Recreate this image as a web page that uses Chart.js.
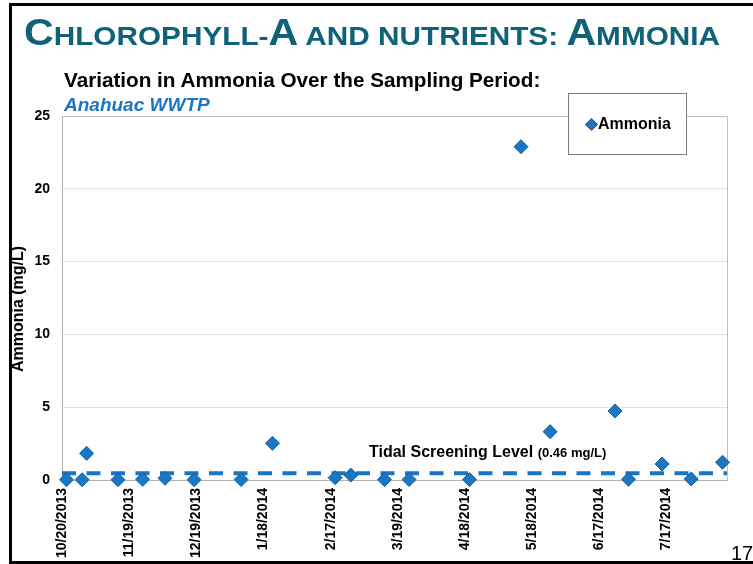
<!DOCTYPE html>
<html>
<head>
<meta charset="utf-8">
<script src="https://cdn.jsdelivr.net/npm/chart.js@4.4.0/dist/chart.umd.min.js"></script>
<style>
html,body{margin:0;padding:0;background:#fff;}
#wrap{position:relative;width:753px;height:564px;overflow:hidden;font-family:"Liberation Sans",Arial,Helvetica,sans-serif;background:#fff;}
#frame{position:absolute;left:9px;top:3px;width:800px;height:555px;border-left:3px solid #000;border-top:3px solid #000;border-bottom:3px solid #000;}
#chart{position:absolute;left:0;top:0;}
.t{position:absolute;white-space:nowrap;}
#title{left:24px;top:15px;color:#0F6378;font-weight:bold;line-height:35px;transform-origin:0 0;}
#title .b{font-size:36px;}
#title .s{font-size:26px;}
#sub1{left:64px;top:70px;font-size:20.7px;line-height:20px;font-weight:bold;color:#000;}
#sub2{left:64px;top:95px;font-size:19px;line-height:19px;font-weight:bold;font-style:italic;color:#1A75C7;}
#ytitle{left:18px;top:309px;font-size:16px;line-height:16px;font-weight:bold;color:#000;transform:translate(-50%,-50%) rotate(-90deg);}
#note{left:369px;top:444px;font-size:16px;line-height:16px;font-weight:bold;color:#000;}
#note span{font-size:13px;}
#legend{position:absolute;left:568px;top:93px;width:117px;height:60px;border:1px solid #7F7F7F;background:#fff;}
#legend .d{position:absolute;left:18px;top:26px;width:7px;height:7px;background:#1C77C3;border:1px solid #135E9F;transform:rotate(45deg);}
#legend .l{position:absolute;left:29px;top:22px;font-size:16px;line-height:16px;font-weight:bold;color:#000;}
#pg{left:731px;top:543px;font-size:20px;line-height:20px;color:#000;}
</style>
</head>
<body>
<div id="wrap">
  <canvas id="chart" width="753" height="564"></canvas>
  <div id="frame"></div>
  <div class="t" id="title"><span class="b">C</span><span class="s">HLOROPHYLL-</span><span class="b">A</span><span class="s"> AND NUTRIENTS: </span><span class="b">A</span><span class="s">MMONIA</span></div>
  <div class="t" id="sub1">Variation in Ammonia Over the Sampling Period:</div>
  <div class="t" id="sub2">Anahuac WWTP</div>
  <div class="t" id="ytitle">Ammonia (mg/L)</div>
  <div class="t" id="note">Tidal Screening Level <span>(0.46 mg/L)</span></div>
  <div id="legend"><div class="d"></div><div class="l">Ammonia</div></div>
  <div class="t" id="pg">17</div>
</div>
<script>
// ---- data ----
const sampleDates = ['2013-10-22','2013-10-29','2013-10-31','2013-11-14','2013-11-25','2013-12-05','2013-12-18',
  '2014-01-08','2014-01-22','2014-02-19','2014-02-26','2014-03-13','2014-03-24','2014-04-20','2014-05-13',
  '2014-05-26','2014-06-24','2014-06-30','2014-07-15','2014-07-28','2014-08-11'];
const ammonia = [0.02,0.02,1.83,0.02,0.05,0.12,0.02,0.03,2.52,0.16,0.34,0.03,0.03,0.03,22.89,3.32,4.74,0.05,1.10,0.07,1.22];
const tickLabels = ['10/20/2013','11/19/2013','12/19/2013','1/18/2014','2/17/2014','3/19/2014','4/18/2014','5/18/2014','6/17/2014','7/17/2014'];
const yTickValues = [0,5,10,15,20,25];
const screeningLevel = 0.46;
const axisStart = '2013-10-20';
const axisEnd = '2014-08-13';

// ---- helpers ----
function isoDay(s){const p=s.split('-').map(Number);return Date.UTC(p[0],p[1]-1,p[2])/86400000;}
function usDay(s){const p=s.split('/').map(Number);return Date.UTC(p[2],p[0]-1,p[1])/86400000;}
const d0 = isoDay(axisStart);
const xMax = isoDay(axisEnd) - d0;
const points = sampleDates.map((d,i)=>({x: isoDay(d)-d0, y: ammonia[i]}));
const tickPos = tickLabels.map(l=>usDay(l)-d0);
const labelByPos = {}; tickPos.forEach((p,i)=>labelByPos[p]=tickLabels[i]);

const frameLines = {
  id:'frameLines',
  beforeDatasetsDraw(chart){
    const a=chart.chartArea, c=chart.ctx;
    c.save(); c.strokeStyle='#BFBFBF'; c.lineWidth=1;
    c.beginPath(); c.moveTo(Math.round(a.right)+0.5,a.top); c.lineTo(Math.round(a.right)+0.5,a.bottom); c.stroke();
    c.restore();
  }
};

const FONT = '"Liberation Sans", Arial, sans-serif';
new Chart(document.getElementById('chart'), {
  type:'scatter',
  data:{datasets:[
    {label:'Ammonia', data:points, pointStyle:'rectRot', pointRadius:7, pointHoverRadius:7,
     backgroundColor:'#1C77C3', borderColor:'#135E9F', borderWidth:1, showLine:false, clip:false, order:0},
    {label:'Tidal Screening Level', type:'line', data:[{x:0,y:screeningLevel},{x:xMax,y:screeningLevel}],
     borderColor:'#1A75C5', borderWidth:4, borderDash:[14,10.5], pointRadius:0, fill:false, clip:false, order:1}
  ]},
  options:{
    responsive:false, animation:false,
    layout:{padding:{left:0,top:116,right:26,bottom:0}},
    plugins:{legend:{display:false},tooltip:{enabled:false}},
    scales:{
      x:{type:'linear', min:0, max:xMax,
        afterFit(s){s.height=84;},
        afterBuildTicks(s){s.ticks=tickPos.map(v=>({value:v}));},
        grid:{display:false, drawTicks:false},
        border:{display:true,color:'#B3B3B3',width:1},
        ticks:{autoSkip:false, maxRotation:90, minRotation:90, padding:8, color:'#000',
          font:{family:FONT,size:14,weight:'bold'}, callback:(v)=>labelByPos[v]||''}
      },
      y:{type:'linear', min:0, max:25,
        afterFit(s){s.width=62;},
        afterBuildTicks(s){s.ticks=yTickValues.map(v=>({value:v}));},
        grid:{color:(ctx)=>ctx.tick && ctx.tick.value===25 ? '#BFBFBF' : '#E3E3E3', drawTicks:false},
        border:{display:true,color:'#B3B3B3',width:1},
        ticks:{padding:12, color:'#000', font:{family:FONT,size:14,weight:'bold'}}
      }
    }
  },
  plugins:[frameLines]
});

// fit title width to the reference span
const t=document.getElementById('title');
const w=t.getBoundingClientRect().width;
t.style.transform='scaleX('+(696/w)+')';
</script>
</body>
</html>
